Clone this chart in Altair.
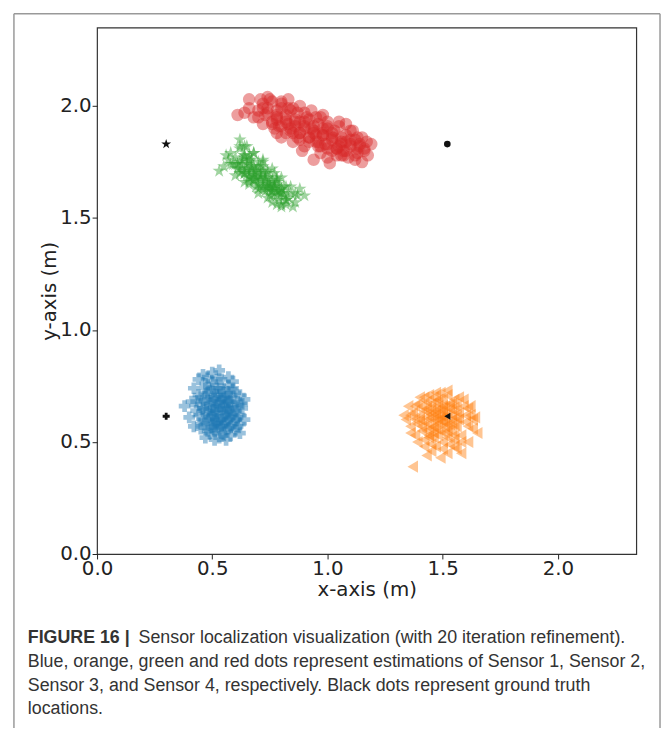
import altair as alt
import pandas as pd

# Sensor 1 (blue, plus markers)
s1_x = [0.50,0.52,0.55,0.57,0.53,0.56,0.51,0.58,0.54,0.49,0.47,0.60,0.55,0.52,0.58,0.50,0.56,0.48,0.53,0.57,
        0.46,0.61,0.51,0.59,0.54,0.49,0.45,0.62,0.55,0.52,0.50,0.47,0.44,0.43,0.45,0.48,0.53,0.58,0.61,0.63,
        0.60,0.57,0.54,0.42,0.46,0.50,0.53,0.41,0.40,0.38,0.42,0.47,0.51,0.56,0.62,0.64,0.64,0.59,0.44,0.55,
        0.51,0.56,0.49,0.53,0.59,0.47,
        0.48,0.50,0.52,0.54,0.56,0.58,0.49,0.51,0.53,0.55,0.57,0.59,0.47,0.50,0.52,0.54,0.56,0.58,0.60,0.48,
        0.51,0.53,0.55,0.57,0.49,0.52,0.54,0.56,0.50,0.53,0.55,0.58,0.46,0.61,0.57,0.52,
        0.44,0.45,0.47,0.50,0.59,0.62,0.62,0.60,0.55,0.49,0.45,0.43,0.52,0.57,0.48,0.46,0.61,0.63,0.51,0.58]
s1_y = [0.62,0.66,0.63,0.65,0.60,0.68,0.70,0.61,0.57,0.66,0.63,0.64,0.72,0.74,0.70,0.58,0.59,0.69,0.68,0.56,
        0.60,0.68,0.55,0.58,0.54,0.73,0.67,0.62,0.66,0.63,0.77,0.76,0.71,0.64,0.58,0.55,0.52,0.53,0.57,0.65,
        0.72,0.75,0.78,0.74,0.80,0.81,0.82,0.68,0.61,0.66,0.57,0.52,0.51,0.51,0.54,0.60,0.69,0.77,0.78,0.61,
        0.60,0.70,0.64,0.71,0.66,0.70,
        0.60,0.62,0.64,0.60,0.62,0.64,0.67,0.69,0.66,0.70,0.68,0.62,0.58,0.56,0.58,0.66,0.56,0.72,0.60,0.72,
        0.64,0.74,0.58,0.60,0.61,0.71,0.69,0.65,0.68,0.57,0.74,0.68,0.65,0.66,0.63,0.59,
        0.62,0.70,0.74,0.74,0.74,0.71,0.58,0.55,0.53,0.54,0.56,0.68,0.78,0.79,0.79,0.65,0.61,0.67,0.57,0.57]

# Sensor 2 (orange, left triangles)
s2_x = [1.46,1.49,1.52,1.44,1.47,1.50,1.42,1.54,1.45,1.51,1.40,1.56,1.48,1.43,1.53,1.39,1.57,1.46,1.50,1.41,
        1.55,1.44,1.49,1.37,1.36,1.38,1.42,1.47,1.53,1.58,1.60,1.59,1.62,1.63,1.52,1.40,1.34,1.35,1.45,1.52,
        1.56,1.61,1.64,1.65,1.37,1.43,1.49,1.58,1.33,1.48,1.51,1.45,1.54,1.43,1.50,1.47,1.41,1.56,1.46,1.39,
        1.61,1.55,1.42,
        1.44,1.46,1.48,1.50,1.52,1.54,1.45,1.47,1.49,1.51,1.53,1.55,1.43,1.46,1.48,1.50,1.52,1.56,1.42,1.44,
        1.47,1.49,1.51,1.53,1.40,1.45,1.48,1.50,1.54,1.57,1.43,1.46,1.52,1.55,1.41,1.49,
        1.36,1.38,1.36,1.39,1.60,1.61,1.59,1.62,1.45,1.50,1.55,1.47,1.52,1.42,1.57,1.38,1.58,1.44,1.55,1.63]
s2_y = [0.60,0.62,0.58,0.63,0.56,0.66,0.59,0.62,0.67,0.54,0.62,0.57,0.69,0.55,0.65,0.58,0.63,0.52,0.50,0.66,
        0.69,0.71,0.72,0.63,0.57,0.53,0.51,0.48,0.49,0.53,0.59,0.66,0.62,0.56,0.71,0.70,0.60,0.66,0.46,0.45,
        0.47,0.50,0.61,0.54,0.39,0.44,0.43,0.45,0.62,0.58,0.61,0.61,0.55,0.65,0.64,0.64,0.55,0.66,0.70,0.67,
        0.65,0.51,0.48,
        0.58,0.57,0.60,0.59,0.63,0.60,0.65,0.62,0.55,0.57,0.67,0.64,0.61,0.54,0.66,0.69,0.52,0.61,0.64,0.52,
        0.68,0.64,0.66,0.58,0.60,0.56,0.53,0.61,0.67,0.60,0.68,0.63,0.55,0.58,0.57,0.60,
        0.62,0.66,0.54,0.50,0.62,0.57,0.69,0.66,0.49,0.47,0.48,0.72,0.73,0.70,0.70,0.60,0.50,0.53,0.53,0.60]

# Sensor 3 (green, stars)
s3_x = [0.71,0.68,0.74,0.65,0.77,0.62,0.80,0.60,0.83,0.70,0.73,0.66,0.76,0.63,0.79,0.69,0.72,0.67,0.75,0.78,
        0.64,0.81,0.61,0.84,0.58,0.86,0.70,0.74,0.66,0.59,0.82,0.62,0.57,0.87,0.55,0.53,0.62,0.68,0.72,0.77,
        0.85,0.90,0.88,0.80,0.76,0.64,0.60,0.56,0.65,0.71,0.73,0.69,0.75,0.67,0.78,
        0.61,0.63,0.65,0.67,0.69,0.71,0.73,0.75,0.77,0.79,0.81,0.64,0.66,0.68,0.70,0.72,0.74,0.76,0.78,0.80,
        0.62,0.66,0.70,0.74,0.78,0.82,0.68,0.72,0.76,0.64,
        0.62,0.66,0.70,0.74,0.78,0.82,0.86,0.60,0.64,0.68,0.72,0.76,0.80,0.66,
        0.63,0.67,0.71,0.75,0.79,0.69,0.73,0.77,0.65,0.81,
        0.64,0.68,0.72,0.76,0.80,0.84,0.58,0.62,0.66,0.70,0.74,0.78,
        0.64,0.68,0.72,0.76,0.80,0.70,0.74,0.66,0.78,0.82]
s3_y = [1.67,1.70,1.65,1.72,1.63,1.75,1.61,1.77,1.59,1.70,1.62,1.68,1.66,1.71,1.58,1.64,1.73,1.76,1.60,1.67,
        1.78,1.64,1.72,1.61,1.79,1.57,1.61,1.70,1.65,1.74,1.56,1.81,1.76,1.60,1.73,1.71,1.85,1.79,1.76,1.70,
        1.55,1.60,1.63,1.55,1.57,1.66,1.69,1.78,1.82,1.64,1.68,1.67,1.63,1.73,1.62,
        1.74,1.74,1.71,1.71,1.68,1.68,1.66,1.64,1.64,1.61,1.61,1.77,1.75,1.73,1.72,1.70,1.68,1.67,1.65,1.63,
        1.72,1.69,1.65,1.63,1.60,1.58,1.67,1.64,1.62,1.70,
        1.82,1.78,1.75,1.71,1.68,1.64,1.61,1.74,1.70,1.67,1.63,1.60,1.56,1.68,
        1.76,1.72,1.69,1.65,1.62,1.71,1.67,1.64,1.74,1.60,
        1.82,1.79,1.75,1.72,1.68,1.64,1.74,1.70,1.66,1.63,1.59,1.56,
        1.78,1.69,1.71,1.62,1.63,1.73,1.64,1.76,1.66,1.58]

# Sensor 4 (red, circles)
s4_x = [0.94,0.90,0.98,0.86,1.02,0.82,1.06,0.78,1.10,0.74,1.14,0.92,0.96,0.88,1.00,0.84,1.04,0.80,1.08,0.76,
        1.12,0.70,1.16,0.95,0.91,0.87,0.99,1.03,0.83,1.07,0.72,1.17,0.66,0.61,0.66,0.83,0.76,0.71,1.175,0.94,
        1.01,1.15,1.09,0.89,0.85,0.97,1.13,1.19,0.68,0.79,1.05,0.93,0.78,1.11,1.00,0.64,0.74,0.80,0.97,1.06,
        0.74,0.78,0.82,0.86,0.90,0.94,0.98,1.02,1.06,1.10,1.14,0.76,0.80,0.84,0.88,0.92,0.96,1.00,1.04,1.08,
        1.12,0.78,0.82,0.86,0.90,0.94,0.98,1.02,1.06,1.10,0.84,0.88,0.92,0.96,1.00,1.04,0.72,0.70,1.16,1.13,
        0.75,0.80,0.85,0.90,0.95,1.00,1.05,1.10,1.15,0.88,0.98,1.08,
        0.72,0.77,0.82,0.87,0.92,0.97,1.02,1.07,1.12,0.90,1.00,0.80,
        0.83,0.93,1.03,1.13,0.88,0.98,1.08,0.78,0.73,0.95,1.05,0.85]
s4_y = [1.89,1.91,1.87,1.93,1.86,1.94,1.84,1.96,1.83,1.97,1.82,1.86,1.92,1.88,1.90,1.90,1.81,1.99,1.87,1.93,
        1.85,1.98,1.81,1.84,1.95,1.97,1.83,1.89,1.99,1.80,2.01,1.84,1.99,1.96,2.03,2.03,2.02,2.03,1.78,1.76,
        1.745,1.75,1.77,1.80,1.84,1.79,1.79,1.83,1.95,1.91,1.93,1.98,1.88,1.89,1.81,1.97,2.04,2.02,1.95,1.78,
        1.99,1.98,1.96,1.94,1.93,1.91,1.90,1.88,1.86,1.85,1.83,1.92,1.91,1.89,1.88,1.86,1.84,1.83,1.81,1.80,
        1.78,1.95,1.93,1.91,1.90,1.88,1.87,1.85,1.83,1.82,1.98,1.85,1.94,1.82,1.91,1.78,1.99,1.95,1.80,1.86,
        2.03,2.01,1.99,1.97,1.95,1.93,1.91,1.89,1.86,2.00,1.96,1.92,
        1.92,1.90,1.88,1.86,1.84,1.82,1.80,1.78,1.76,1.82,1.77,1.86,
        1.92,1.90,1.86,1.81,1.93,1.88,1.84,1.94,1.96,1.87,1.82,1.88]

# Ground truth locations
gt_x = [0.30, 1.52, 0.30, 1.52]
gt_y = [0.615, 0.615, 1.83, 1.83]

STAR = ("M0,-1L0.225,-0.309L0.951,-0.309L0.363,0.118L0.588,0.809L0,0.382"
        "L-0.588,0.809L-0.363,0.118L-0.951,-0.309L-0.225,-0.309Z")
gt_shape = ["cross", "triangle-left", STAR, "circle"]
gt_size = [50, 50, 110, 45]

caption_lines = [
    "Sensor localization visualization (with 20 iteration refinement).",
    "Blue, orange, green and red dots represent estimations of Sensor 1, Sensor 2,",
    "Sensor 3, and Sensor 4, respectively. Black dots represent ground truth",
    "locations.",
]

W, H = 545, 532
XMAX, YMAX = 2.34, 2.35

xs = alt.Scale(domain=[0, XMAX], nice=False, zero=False)
ys = alt.Scale(domain=[0, YMAX], nice=False, zero=False)
axis_common = dict(grid=False, domain=False, tickSize=5, tickColor="#222", tickWidth=1,
                   labelFont="DejaVu Sans", labelFontSize=20, labelColor="#222",
                   titleFont="DejaVu Sans", titleFontSize=20, titleFontWeight="normal",
                   titleColor="#222", labelFlush=False, format=".1f",
                   values=[0, 0.5, 1.0, 1.5, 2.0])
xax = alt.Axis(title="x-axis (m)", orient="bottom", labelPadding=0, titlePadding=1, **axis_common)
yax = alt.Axis(title="y-axis (m)", orient="left", labelPadding=1, titlePadding=0, **axis_common)


def cluster(xv, yv, shape, color, size, opacity):
    df = pd.DataFrame({"x": xv, "y": yv})
    return alt.Chart(df).mark_point(shape=shape, filled=True, size=size, opacity=opacity,
                                    color=color, strokeWidth=0).encode(
        x=alt.X("x:Q", scale=xs, axis=xax),
        y=alt.Y("y:Q", scale=ys, axis=yax),
    )


layers = [
    cluster(s1_x, s1_y, "cross", "#1f77b4", 140, 0.45),
    cluster(s2_x, s2_y, "triangle-left", "#ff7f0e", 150, 0.45),
    cluster(s3_x, s3_y, STAR, "#2ca02c", 200, 0.45),
    cluster(s4_x, s4_y, "circle", "#d62728", 160, 0.45),
]
for gx, gy, gs, gz in zip(gt_x, gt_y, gt_shape, gt_size):
    layers.append(cluster([gx], [gy], gs, "#111111", gz, 1.0))

one = pd.DataFrame({"a": [0]})
frame_col = "#999999"
frame = [
    alt.Chart(one).mark_rule(color=frame_col, strokeWidth=1.5).encode(
        x=alt.value(-84), y=alt.value(-14), y2=alt.value(H + 180)),
    alt.Chart(one).mark_rule(color=frame_col, strokeWidth=1.5).encode(
        x=alt.value(569), y=alt.value(-14), y2=alt.value(H + 180)),
    alt.Chart(one).mark_rule(color=frame_col, strokeWidth=1.5).encode(
        x=alt.value(-84), x2=alt.value(569), y=alt.value(-14)),
]

cap_font = "Liberation Sans"
cap_size = 18
cap_col = "#333333"
cap_y = [617, 641, 665, 689]
texts = [
    alt.Chart(one).mark_text(text="FIGURE 16 |", align="left", baseline="middle", font=cap_font,
                             fontSize=cap_size, fontWeight="bold", color=cap_col).encode(
        x=alt.value(-70), y=alt.value(cap_y[0])),
    alt.Chart(one).mark_text(text=caption_lines[0], align="left", baseline="middle", font=cap_font,
                             fontSize=cap_size, color=cap_col).encode(
        x=alt.value(42), y=alt.value(cap_y[0])),
]
for i in range(1, 4):
    texts.append(alt.Chart(one).mark_text(text=caption_lines[i], align="left", baseline="middle",
                                          font=cap_font, fontSize=cap_size, color=cap_col).encode(
        x=alt.value(-70), y=alt.value(cap_y[i])))

chart = alt.layer(*layers, *frame, *texts).properties(
    width=W, height=H,
    autosize=alt.AutoSizeParams(type="none"),
    padding={"left": 90, "top": 16, "right": 26, "bottom": 172},
).configure_view(stroke="#333333", strokeWidth=1.2)

chart.save("out.html", embed_options={"renderer": "svg", "actions": False})
